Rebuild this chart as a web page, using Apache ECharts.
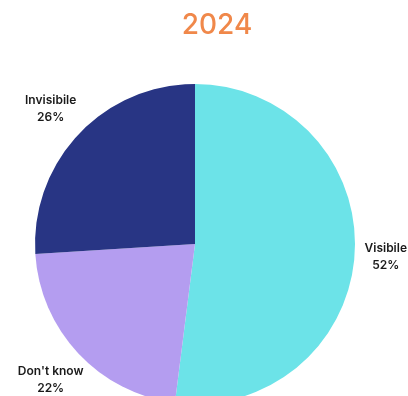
<!DOCTYPE html>
<html>
<head>
<meta charset="utf-8">
<script src="https://cdn.jsdelivr.net/npm/echarts@6/dist/echarts.min.js"></script>
<style>
  html, body { margin: 0; padding: 0; background: #ffffff; }
  #chart { width: 408px; height: 396px; }
</style>
</head>
<body>
<div id="chart"></div>
<script>
// Share of responses for 2024
const titleText = '2024';
const categories = ['Visibile', "Don't know", 'Invisibile'];
const shares = [52, 22, 26];
const sliceColors = ['#6ce3e8', '#b49df0', '#283584'];

const chart = echarts.init(document.getElementById('chart'), null, { renderer: 'canvas' });

const W = 408;
const cx = 195, cy = 244, radius = 160, labelRadius = 198;
const total = shares.reduce((a, b) => a + b, 0);

// Mid-angle of each slice (clockwise from 12 o'clock), used to put labels on a ring
function labelPoint(idx) {
  let before = 0;
  for (let i = 0; i < idx; i++) before += shares[i];
  const mid = (before + shares[idx] / 2) / total * Math.PI * 2;
  return { x: cx + labelRadius * Math.sin(mid), y: cy - labelRadius * Math.cos(mid) };
}

chart.setOption({
  animation: false,
  backgroundColor: '#ffffff',
  title: {
    text: titleText,
    left: 212,
    top: 7,
    textAlign: 'center',
    textStyle: { color: '#f0884a', fontSize: 28, fontWeight: 500, fontFamily: 'Inter' }
  },
  series: [{
    type: 'pie',
    center: [cx, cy],
    radius: [0, radius],
    startAngle: 90,
    clockwise: true,
    avoidLabelOverlap: false,
    itemStyle: { borderWidth: 0 },
    label: {
      show: true,
      position: 'outside',
      formatter: p => p.name + '\n' + p.value + '%',
      color: '#1a1a1a',
      fontSize: 12,
      fontWeight: 600,
      lineHeight: 17,
      align: 'center',
      fontFamily: 'Inter'
    },
    labelLine: { show: false },
    labelLayout: params => {
      const pt = labelPoint(params.dataIndex);
      // keep the label inside the canvas on the right side
      const half = params.labelRect.width / 2;
      const x = Math.min(pt.x, W - half - 1);
      return { x: x, y: pt.y, align: 'center', verticalAlign: 'middle' };
    },
    data: categories.map((name, i) => ({
      name: name,
      value: shares[i],
      itemStyle: { color: sliceColors[i] }
    }))
  }]
});
</script>
</body>
</html>
